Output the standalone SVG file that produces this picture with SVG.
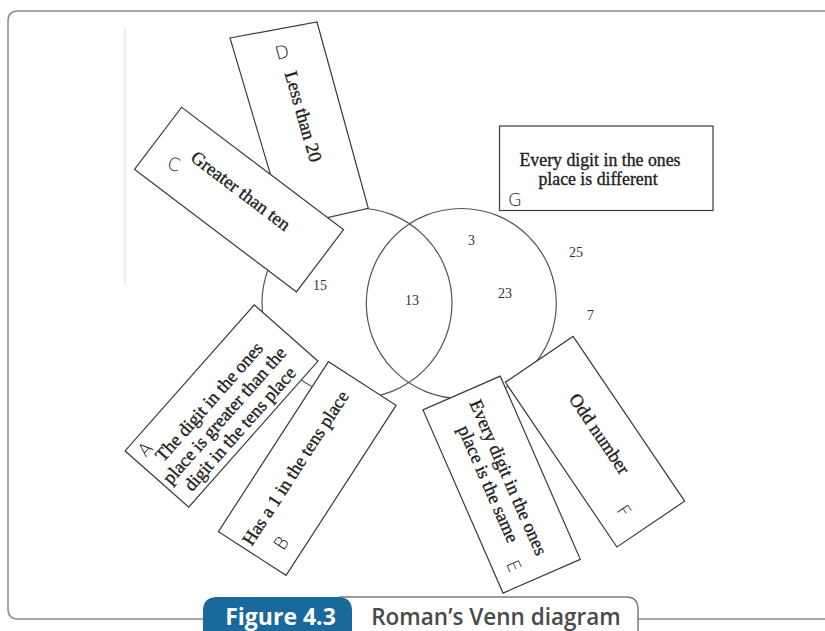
<svg xmlns="http://www.w3.org/2000/svg" width="825" height="631" viewBox="0 0 825 631">
<style>
.slip{fill:#fff;stroke:#3a3a3a;stroke-width:1.2}
.ring{fill:none;stroke:#555;stroke-width:1.2}
.t{font-family:"Liberation Serif","Times New Roman",serif;font-size:18.5px;fill:#1e1e1e;stroke:#1e1e1e;stroke-width:0.35;text-anchor:middle}
.num{font-family:"Liberation Serif","Times New Roman",serif;font-size:14px;fill:#333}
.hand{font-family:"DejaVu Sans","Liberation Sans",sans-serif;font-size:18px;font-weight:300;fill:#111;text-anchor:middle;dominant-baseline:central}
.frame{fill:none;stroke:#8a8a8a;stroke-width:1.5}
</style>
<rect width="825" height="631" fill="#fff"/>
<path class="frame" d="M825,11 H18 Q8,11 8,21 V609 Q8,619 18,619 H210 M630,619 H825"/>
<line x1="125" y1="28" x2="125" y2="285" stroke="#dcdcdc" stroke-width="1"/>

<g id="connectors">
<circle class="ring" cx="357" cy="303" r="95"/>
<circle class="ring" cx="461.3" cy="303.5" r="95"/>
</g>

<g id="numbers">
<text class="num" x="313" y="290">15</text>
<text class="num" x="405" y="305">13</text>
<text class="num" x="468" y="245">3</text>
<text class="num" x="498" y="298">23</text>
<text class="num" x="569" y="257">25</text>
<text class="num" x="587" y="320">7</text>
</g>

<g id="slip-d">
<polygon class="slip" points="230,38 317,22 368.3,208.3 286,227"/>
<text class="t" transform="translate(298.5,122) rotate(74)" x="-4" y="0">Less than 20</text>
<text class="hand" transform="translate(282,52) rotate(-15)">D</text>
</g>

<g id="slip-c" transform="translate(239,199.6) rotate(37.1)">
<rect class="slip" x="-101.5" y="-39" width="203" height="78"/>
<text class="t" x="-4" y="-2">Greater than ten</text>
</g>
<text class="hand" transform="translate(174,164) rotate(15)">C</text>

<g id="slip-g">
<rect class="slip" x="499.5" y="126" width="213.5" height="84.5"/>
<text class="t" x="600" y="166" style="font-size:17.8px">Every digit in the ones</text>
<text class="t" x="598" y="184.5" style="font-size:17.8px">place is different</text>
<text class="hand" x="515" y="199">G</text>
</g>

<g id="slip-a" transform="translate(221.5,406) rotate(-48.5)">
<rect class="slip" x="-97.5" y="-42.5" width="195" height="85"/>
<text class="t" x="-5" y="-6">The digit in the ones</text>
<text class="t" x="-5" y="14.5">place is greater than the</text>
<text class="t" x="-5" y="35">digit in the tens place</text>
</g>
<text class="hand" transform="translate(145,449) rotate(-48)">A</text>

<g id="slip-b" transform="translate(307.25,468.5) rotate(-57.1)">
<rect class="slip" x="-101.25" y="-40.3" width="202.5" height="80.6"/>
<text class="t" x="-6" y="-4">Has a 1 in the tens place</text>
</g>
<text class="hand" transform="translate(281,543) rotate(-57)">B</text>

<g id="slip-f" transform="translate(595,441.7) rotate(55.9)">
<rect class="slip" x="-99.5" y="-40.9" width="199" height="81.8"/>
<text class="t" x="-4" y="-2">Odd number</text>
</g>
<text class="hand" transform="translate(624,511) rotate(56)">F</text>

<g id="slip-e" transform="translate(501.65,484.6) rotate(66.4)">
<rect class="slip" x="-100" y="-42.15" width="200" height="84.3"/>
<text class="t" x="-4" y="-3">Every digit in the ones</text>
<text class="t" x="-6" y="18">place is the same</text>
</g>
<text class="hand" transform="translate(514,566) rotate(66)">E</text>

<g id="caption">
<path d="M340,631 V597 H626 Q638,597 638,609 V631" fill="#fff" stroke="#7a7a7a" stroke-width="1.5"/>
<path d="M203,631 V611 Q203,597 217,597 H338 Q352,597 352,611 V631 Z" fill="#19699d"/>
<text x="280.5" y="624.5" font-family="'Open Sans','Noto Sans',sans-serif" font-size="23" font-weight="700" fill="#fff" text-anchor="middle">Figure 4.3</text>
<text x="496" y="624.5" font-family="'Open Sans','Noto Sans',sans-serif" font-size="22.5" font-weight="600" fill="#4a4a4a" text-anchor="middle">Roman’s Venn diagram</text>
</g>
</svg>
